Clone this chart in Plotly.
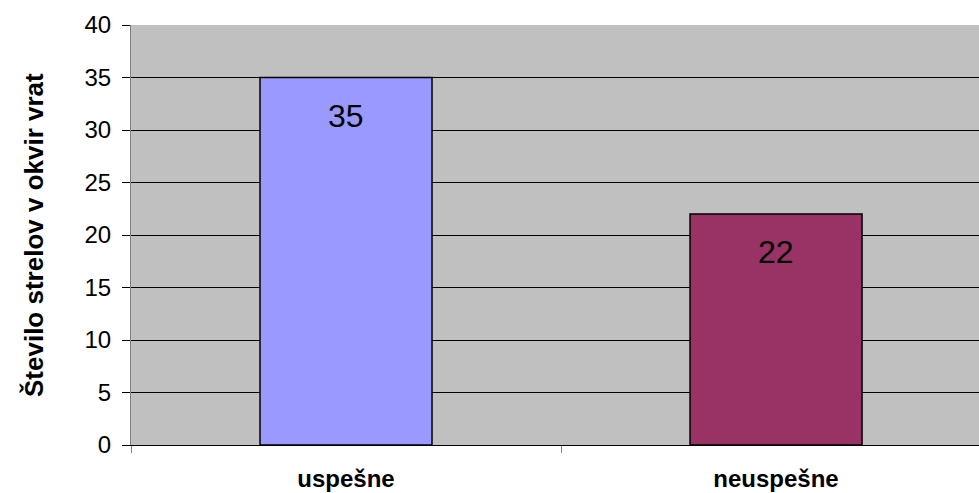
import plotly.graph_objects as go

categories = ["uspešne", "neuspešne"]
values = [35, 22]
bar_colors = ["#9999FF", "#993366"]
y_title = "Število strelov v okvir vrat"
y_ticks = [0, 5, 10, 15, 20, 25, 30, 35, 40]

FONT = "Arial, 'Liberation Sans', sans-serif"

fig = go.Figure()
fig.add_trace(go.Bar(
    x=categories, y=values, width=0.4,
    marker=dict(color=bar_colors, line=dict(color="black", width=1.5)),
    hoverinfo="skip", showlegend=False,
))

for c, v in zip(categories, values):
    fig.add_annotation(x=c, y=v, text=str(v), showarrow=False,
                       yshift=-38, font=dict(family=FONT, size=32, color="black"))

fig.add_annotation(xref="paper", yref="paper", x=0, y=0.5, xshift=-97,
                   text=f"<b>{y_title}</b>", textangle=-90, showarrow=False,
                   xanchor="center", yanchor="middle",
                   font=dict(family=FONT, size=26, color="black"))

fig.update_layout(
    width=979, height=493,
    margin=dict(l=131, r=0, t=25, b=48),
    paper_bgcolor="white", plot_bgcolor="#C0C0C0",
    font=dict(family=FONT, color="black"),
)
fig.update_xaxes(
    type="category", range=[-0.5, 1.472],
    showline=True, linecolor="black", linewidth=1,
    ticks="outside", tickson="boundaries", ticklen=7, tickcolor="#808080",
    tickfont=dict(family=FONT, size=24, color="black"),
    ticktext=[f"<b>{c}</b>" for c in categories], tickvals=categories,
    ticklabelstandoff=12,
    showgrid=False, fixedrange=True,
)
fig.update_yaxes(
    range=[0, 40], tickvals=y_ticks,
    showline=True, linecolor="#808080", linewidth=1,
    ticks="outside", ticklen=8, tickcolor="black",
    tickfont=dict(family=FONT, size=24, color="black"),
    ticklabelstandoff=6,
    showgrid=True, gridcolor="black", gridwidth=1,
    zeroline=True, zerolinecolor="black", zerolinewidth=1,
    fixedrange=True,
)

fig.write_html(
    "out.html",
    config={"displayModeBar": False},
    post_script="document.body.style.margin='0';document.body.style.overflow='hidden';",
)
